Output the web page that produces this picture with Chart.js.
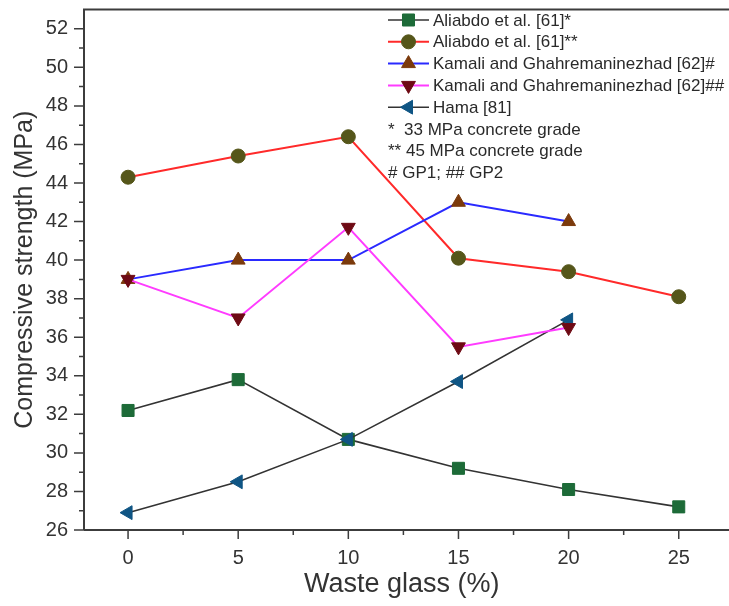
<!DOCTYPE html>
<html>
<head>
<meta charset="utf-8">
<script src="https://cdn.jsdelivr.net/npm/chart.js@4/dist/chart.umd.min.js"></script>
<style>
  html, body { margin: 0; padding: 0; background: #fff; }
  #wrap { width: 729px; height: 606px; }
</style>
</head>
<body>
<div id="wrap"><canvas id="chart" width="729" height="606"></canvas></div>
<script>
// ---------- Data ----------
const wasteGlass   = [0, 5, 10, 15, 20, 25];
const aliabdo33    = [32.2, 33.8, 30.7, 29.2, 28.1, 27.2];
const aliabdo45    = [44.3, 45.4, 46.4, 40.1, 39.4, 38.1];
const kamaliGP1    = [39.0, 40.0, 40.0, 43.0, 42.0];
const kamaliGP2    = [39.0, 37.0, 41.7, 35.5, 36.5];
const hama         = [26.9, 28.5, 30.7, 33.7, 36.9];

const xMajorTicks = [0, 5, 10, 15, 20, 25];
const xMinorTicks = [2.5, 7.5, 12.5, 17.5, 22.5];
const yMajorTicks = [26, 28, 30, 32, 34, 36, 38, 40, 42, 44, 46, 48, 50, 52];
const yMinorTicks = [27, 29, 31, 33, 35, 37, 39, 41, 43, 45, 47, 49, 51];

const legendNotes = ["*  33 MPa concrete grade", "** 45 MPa concrete grade", "# GP1; ## GP2"];

const FONT = "'Liberation Sans', Arial, sans-serif";
const AXIS = "#3c3c3c";

function pts(ys) { return ys.map((y, i) => ({ x: wasteGlass[i], y })); }

function series(label, ys, line, fill, style, radius, rotation, order) {
  return {
    label, data: pts(ys),
    borderColor: line, borderWidth: line === "#333333" ? 1.6 : 2,
    backgroundColor: fill, pointBackgroundColor: fill, pointBorderColor: fill,
    pointBorderWidth: 1, pointStyle: style, pointRadius: radius, pointRotation: rotation,
    pointHoverRadius: radius, tension: 0, order
  };
}

const datasets = [
  series("Aliabdo et al. [61]*",              aliabdo33, "#333333", "#1d6b38", "rect",     8.5, 0,   5),
  series("Aliabdo et al. [61]**",             aliabdo45, "#ff2a2a", "#55561a", "circle",   7,   0,   4),
  series("Kamali and Ghahremaninezhad [62]#", kamaliGP1, "#2a2aff", "#7b3a0c", "triangle", 8,   0,   3),
  series("Kamali and Ghahremaninezhad [62]##",kamaliGP2, "#ff3cff", "#6e0a14", "triangle", 8,   180, 1),
  series("Hama [81]",                         hama,      "#333333", "#0f5584", "triangle", 8,   270, 2),
];

// ---------- Frame, ticks, legend ----------
function drawMarker(ctx, ds, x, y) {
  const opts = { pointStyle: ds.pointStyle, radius: ds.pointRadius, rotation: ds.pointRotation, borderWidth: 1 };
  ctx.fillStyle = ds.pointBackgroundColor;
  ctx.strokeStyle = ds.pointBorderColor;
  ctx.lineWidth = 1;
  Chart.helpers.drawPoint(ctx, opts, x, y);
}

const framePlugin = {
  id: "frame",
  afterDraw(chart) {
    const { ctx, chartArea: a, scales: { x, y } } = chart;
    ctx.save();
    ctx.strokeStyle = AXIS;
    ctx.lineWidth = 2;
    ctx.beginPath();
    ctx.moveTo(a.left, a.bottom); ctx.lineTo(a.left, a.top); ctx.lineTo(chart.width, a.top);
    ctx.moveTo(a.left, a.bottom); ctx.lineTo(chart.width, a.bottom);
    ctx.stroke();

    ctx.lineWidth = 1.5;
    ctx.beginPath();
    xMajorTicks.forEach(v => { const p = x.getPixelForValue(v); ctx.moveTo(p, a.bottom); ctx.lineTo(p, a.bottom + 9); });
    xMinorTicks.forEach(v => { const p = x.getPixelForValue(v); ctx.moveTo(p, a.bottom); ctx.lineTo(p, a.bottom + 5); });
    yMajorTicks.forEach(v => { const p = y.getPixelForValue(v); ctx.moveTo(a.left, p); ctx.lineTo(a.left - 10, p); });
    yMinorTicks.forEach(v => { const p = y.getPixelForValue(v); ctx.moveTo(a.left, p); ctx.lineTo(a.left - 5, p); });
    ctx.stroke();

    // legend
    const lx0 = 388, lx1 = 429, tx = 433, top = 20, step = 21.8;
    ctx.font = "17px " + FONT;
    ctx.textBaseline = "middle";
    ctx.textAlign = "left";
    datasets.forEach((ds, i) => {
      const ly = top + i * step;
      ctx.strokeStyle = ds.borderColor;
      ctx.lineWidth = ds.borderWidth;
      ctx.beginPath(); ctx.moveTo(lx0, ly); ctx.lineTo(lx1, ly); ctx.stroke();
      drawMarker(ctx, ds, (lx0 + lx1) / 2, ly);
      ctx.fillStyle = "#2a2a2a";
      ctx.fillText(ds.label, tx, ly + 1);
    });
    legendNotes.forEach((t, j) => {
      ctx.fillStyle = "#2a2a2a";
      ctx.fillText(t, lx0, top + (datasets.length + j) * step + 1);
    });
    ctx.restore();
  }
};

// ---------- Chart ----------
new Chart(document.getElementById("chart"), {
  type: "line",
  data: { datasets },
  options: {
    responsive: false,
    devicePixelRatio: 1,
    animation: false,
    layout: { padding: { top: 9, left: 0, right: 0, bottom: 0 } },
    plugins: { legend: { display: false }, tooltip: { enabled: false } },
    scales: {
      x: {
        type: "linear", min: -2, max: 26.85,
        grid: { display: false, drawTicks: false },
        border: { display: false },
        afterBuildTicks: s => { s.ticks = xMajorTicks.map(v => ({ value: v })); },
        afterFit: s => { s.height = 76; s.paddingLeft = 0; s.paddingRight = 0; },
        ticks: { color: "#333", font: { family: FONT, size: 20 }, padding: 16, maxRotation: 0 },
        title: { display: true, text: "Waste glass (%)", color: "#333", font: { family: FONT, size: 27 }, padding: { top: 0, bottom: 5 } }
      },
      y: {
        type: "linear", min: 26, max: 53,
        grid: { display: false, drawTicks: false },
        border: { display: false },
        afterBuildTicks: s => { s.ticks = yMajorTicks.map(v => ({ value: v })); },
        afterFit: s => { s.width = 84; s.paddingTop = 0; s.paddingBottom = 0; },
        ticks: { color: "#333", font: { family: FONT, size: 20 }, padding: 16 },
        title: { display: true, text: "Compressive strength (MPa)", color: "#333", font: { family: FONT, size: 25 }, padding: { top: 10, bottom: 0 } }
      }
    }
  },
  plugins: [framePlugin]
});
</script>
</body>
</html>
